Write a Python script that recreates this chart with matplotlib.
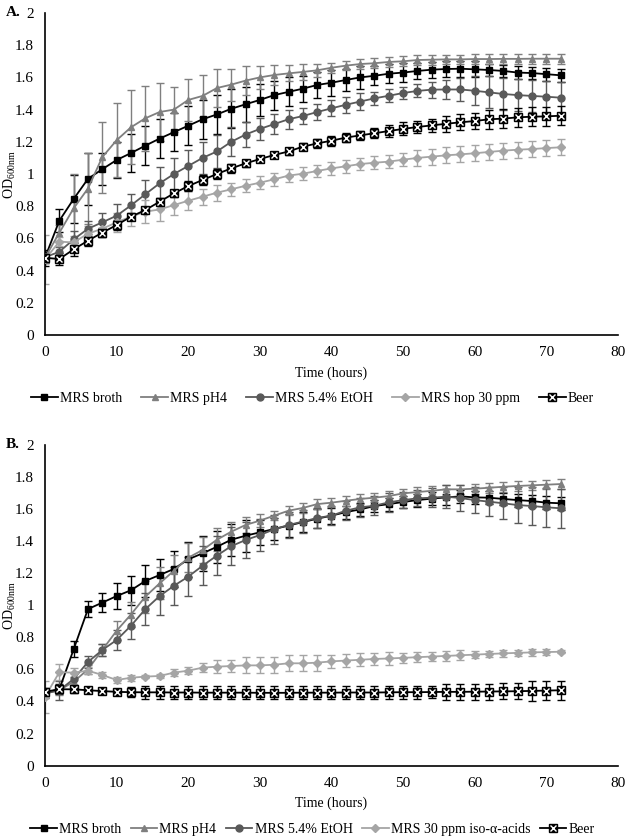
import numpy as np
import matplotlib
matplotlib.use("Agg")
import matplotlib.pyplot as plt

plt.rcParams['font.family'] = ['Liberation Serif', 'DejaVu Serif']
plt.rcParams['mathtext.default'] = 'regular'

time_h = list(range(0, 73, 2))

# ---- panel A ----
a_broth = [0.48, 0.71, 0.845, 0.97, 1.03, 1.087, 1.13, 1.176, 1.22, 1.26, 1.30, 1.34, 1.37,
           1.405, 1.433, 1.46, 1.49, 1.51, 1.53, 1.553, 1.567, 1.584, 1.60, 1.61, 1.623, 1.63,
           1.64, 1.648, 1.652, 1.654, 1.65, 1.646, 1.64, 1.63, 1.627, 1.62, 1.613]
a_broth_err = [0.03, 0.07, 0.15, 0.16, 0.10, 0.11, 0.12, 0.12, 0.12, 0.12, 0.12, 0.12, 0.12,
               0.12, 0.11, 0.10, 0.09, 0.09, 0.08, 0.08, 0.08, 0.07, 0.07, 0.06, 0.06, 0.06,
               0.05, 0.05, 0.05, 0.05, 0.05, 0.04, 0.04, 0.04, 0.04, 0.04, 0.04]
a_ph4 = [0.48, 0.635, 0.787, 0.91, 1.105, 1.21, 1.29, 1.346, 1.385, 1.40, 1.46, 1.485, 1.534,
         1.555, 1.58, 1.60, 1.615, 1.625, 1.634, 1.644, 1.66, 1.673, 1.683, 1.688, 1.696, 1.70,
         1.708, 1.71, 1.712, 1.712, 1.714, 1.714, 1.715, 1.715, 1.716, 1.716, 1.716]
a_ph4_err = [0.03, 0.05, 0.21, 0.22, 0.22, 0.23, 0.23, 0.20, 0.18, 0.14, 0.13, 0.13, 0.12,
             0.10, 0.09, 0.07, 0.06, 0.05, 0.05, 0.04, 0.03, 0.03, 0.03, 0.03, 0.03, 0.03,
             0.03, 0.03, 0.03, 0.03, 0.03, 0.03, 0.03, 0.03, 0.03, 0.03, 0.03]
a_etoh = [0.483, 0.517, 0.594, 0.66, 0.70, 0.741, 0.805, 0.874, 0.942, 1.0, 1.05, 1.10, 1.14,
          1.20, 1.245, 1.28, 1.31, 1.34, 1.36, 1.385, 1.408, 1.43, 1.45, 1.47, 1.486, 1.503,
          1.516, 1.524, 1.525, 1.525, 1.517, 1.507, 1.497, 1.49, 1.485, 1.48, 1.474]
a_etoh_err = [0.03, 0.03, 0.05, 0.05, 0.06, 0.07, 0.07, 0.09, 0.10, 0.10, 0.10, 0.10, 0.10,
              0.09, 0.08, 0.07, 0.06, 0.06, 0.05, 0.05, 0.05, 0.05, 0.05, 0.04, 0.04, 0.04,
              0.04, 0.05, 0.06, 0.07, 0.09, 0.10, 0.10, 0.10, 0.10, 0.10, 0.10]
a_hop = [0.47, 0.58, 0.575, 0.63, 0.66, 0.70, 0.735, 0.766, 0.78, 0.807, 0.834, 0.859, 0.884,
         0.905, 0.927, 0.946, 0.967, 0.99, 1.002, 1.019, 1.035, 1.048, 1.062, 1.07, 1.077,
         1.089, 1.10, 1.108, 1.116, 1.122, 1.129, 1.137, 1.145, 1.151, 1.155, 1.161, 1.166]
a_hop_err = [0.15, 0.03, 0.04, 0.05, 0.05, 0.06, 0.06, 0.07, 0.07, 0.06, 0.06, 0.05, 0.05,
             0.04, 0.04, 0.04, 0.04, 0.04, 0.04, 0.04, 0.04, 0.04, 0.04, 0.04, 0.04, 0.04,
             0.05, 0.05, 0.05, 0.05, 0.05, 0.05, 0.05, 0.05, 0.05, 0.05, 0.05]
a_beer = [0.48, 0.472, 0.532, 0.586, 0.636, 0.683, 0.735, 0.776, 0.828, 0.88, 0.925, 0.963,
          1.0, 1.035, 1.066, 1.093, 1.118, 1.14, 1.17, 1.19, 1.207, 1.226, 1.24, 1.253, 1.267,
          1.28, 1.292, 1.302, 1.312, 1.321, 1.329, 1.34, 1.344, 1.352, 1.356, 1.358, 1.362]
a_beer_err = [0.05, 0.04, 0.04, 0.03, 0.03, 0.03, 0.02, 0.02, 0.02, 0.02, 0.03, 0.03, 0.03,
              0.03, 0.02, 0.02, 0.02, 0.02, 0.02, 0.03, 0.03, 0.03, 0.03, 0.03, 0.04, 0.04,
              0.04, 0.04, 0.05, 0.05, 0.05, 0.06, 0.06, 0.06, 0.06, 0.06, 0.06]
a_labels = ['MRS broth', 'MRS pH4', 'MRS 5.4% EtOH', 'MRS hop 30 ppm', 'Beer']

# ---- panel B ----
b_broth = [0.455, 0.476, 0.725, 0.976, 1.016, 1.057, 1.093, 1.151, 1.188, 1.226, 1.286, 1.323,
           1.364, 1.408, 1.433, 1.454, 1.475, 1.496, 1.518, 1.539, 1.558, 1.58, 1.597, 1.618,
           1.63, 1.643, 1.655, 1.664, 1.672, 1.678, 1.672, 1.67, 1.662, 1.655, 1.649, 1.639, 1.635]
b_broth_err = [0.02, 0.03, 0.05, 0.05, 0.06, 0.08, 0.09, 0.10, 0.10, 0.11, 0.11, 0.11, 0.10,
               0.10, 0.10, 0.08, 0.07, 0.07, 0.06, 0.06, 0.05, 0.04, 0.04, 0.04, 0.04, 0.04,
               0.04, 0.04, 0.05, 0.04, 0.04, 0.04, 0.04, 0.04, 0.04, 0.04, 0.04]
b_ph4 = [0.45, 0.47, 0.523, 0.60, 0.721, 0.841, 0.942, 1.053, 1.136, 1.215, 1.296, 1.344,
         1.408, 1.458, 1.50, 1.527, 1.558, 1.589, 1.606, 1.63, 1.639, 1.651, 1.662, 1.67, 1.68,
         1.697, 1.705, 1.713, 1.722, 1.722, 1.726, 1.732, 1.738, 1.743, 1.747, 1.751, 1.755]
b_ph4_err = [0.03, 0.03, 0.03, 0.03, 0.04, 0.06, 0.08, 0.10, 0.10, 0.10, 0.09, 0.08, 0.07,
             0.06, 0.05, 0.04, 0.03, 0.03, 0.03, 0.03, 0.03, 0.03, 0.03, 0.03, 0.03, 0.03,
             0.03, 0.03, 0.03, 0.03, 0.03, 0.03, 0.03, 0.03, 0.03, 0.03, 0.03]
b_etoh = [0.45, 0.47, 0.54, 0.646, 0.721, 0.783, 0.872, 0.975, 1.057, 1.121, 1.178, 1.246,
          1.309, 1.368, 1.406, 1.437, 1.473, 1.50, 1.521, 1.544, 1.558, 1.589, 1.61, 1.62,
          1.641, 1.655, 1.666, 1.67, 1.676, 1.668, 1.655, 1.645, 1.635, 1.624, 1.618, 1.61, 1.604]
b_etoh_err = [0.03, 0.06, 0.04, 0.04, 0.04, 0.06, 0.08, 0.10, 0.12, 0.12, 0.12, 0.12, 0.12,
              0.12, 0.11, 0.10, 0.09, 0.08, 0.07, 0.06, 0.06, 0.06, 0.06, 0.06, 0.06, 0.05,
              0.05, 0.06, 0.07, 0.08, 0.08, 0.09, 0.10, 0.11, 0.12, 0.12, 0.12]
b_hop = [0.43, 0.582, 0.58, 0.592, 0.565, 0.534, 0.548, 0.555, 0.559, 0.58, 0.592, 0.611,
         0.617, 0.621, 0.625, 0.625, 0.629, 0.638, 0.638, 0.642, 0.65, 0.655, 0.66, 0.665,
         0.668, 0.672, 0.676, 0.68, 0.684, 0.688, 0.692, 0.696, 0.70, 0.703, 0.706, 0.708, 0.71]
b_hop_err = [0.10, 0.05, 0.03, 0.02, 0.02, 0.02, 0.02, 0.01, 0.01, 0.02, 0.02, 0.03, 0.04,
             0.04, 0.05, 0.05, 0.05, 0.05, 0.05, 0.05, 0.04, 0.04, 0.04, 0.04, 0.04, 0.03,
             0.03, 0.03, 0.03, 0.03, 0.02, 0.02, 0.02, 0.02, 0.02, 0.02, 0.01]
b_beer = [0.461, 0.476, 0.476, 0.47, 0.465, 0.46, 0.458, 0.457, 0.457, 0.456, 0.456, 0.455,
          0.455, 0.455, 0.455, 0.454, 0.454, 0.454, 0.455, 0.455, 0.455, 0.456, 0.456, 0.456,
          0.457, 0.458, 0.458, 0.459, 0.46, 0.46, 0.461, 0.462, 0.463, 0.464, 0.466, 0.468, 0.47]
b_beer_err = [0.02, 0.02, 0.02, 0.01, 0.01, 0.02, 0.03, 0.04, 0.04, 0.04, 0.04, 0.04, 0.04,
              0.04, 0.04, 0.04, 0.04, 0.04, 0.04, 0.04, 0.04, 0.04, 0.04, 0.04, 0.04, 0.04,
              0.04, 0.04, 0.05, 0.05, 0.05, 0.05, 0.05, 0.05, 0.06, 0.06, 0.06]
b_labels = ['MRS broth', 'MRS pH4', 'MRS 5.4% EtOH', 'MRS 30 ppm iso-\u03b1-acids', 'Beer']

colors = ['#000000', '#7f7f7f', '#595959', '#a5a5a5', '#000000']
markers = ['s', '^', 'o', 'D', 's']
msizes = [5, 5, 5, 3.8, 6]

fs = 10


def draw_panel(ax, series, errs, labels, tag, legend_y, colspace):
    handles = []
    for i, (vals, err) in enumerate(zip(series, errs)):
        c = colors[i]
        ax.errorbar(time_h, vals, yerr=err, fmt='none', ecolor=c, elinewidth=1.0,
                    capsize=3, capthick=1.0, zorder=2 + i * 0.1)
        line, = ax.plot(time_h, vals, color=c, marker=markers[i], markersize=msizes[i],
                        linewidth=1.3, markeredgecolor=c, markerfacecolor=c,
                        zorder=3 + i * 0.1)
        if labels[i] == 'Beer':
            xm, = ax.plot(time_h, vals, linestyle='none', marker='x', markersize=4,
                          markeredgecolor='white', markeredgewidth=1.0, zorder=3.6)
            handles.append((line, xm))
        else:
            handles.append(line)

    ax.set_xlim(0, 80)
    ax.set_ylim(0, 2)
    ax.set_xticks(np.arange(0, 81, 10))
    ax.set_yticks(np.arange(0, 2.01, 0.2))
    ax.set_yticklabels(['0', '0.2', '0.4', '0.6', '0.8', '1', '1.2', '1.4', '1.6', '1.8', '2'])
    ax.tick_params(length=0, labelsize=fs + 1, pad=8)
    for s in ['top', 'right']:
        ax.spines[s].set_visible(False)
    for s in ['left', 'bottom']:
        ax.spines[s].set_linewidth(1.2)
    ax.set_xlabel('Time (hours)', fontsize=fs, labelpad=5)
    ax.set_ylabel('OD$_{600nm}$', fontsize=fs)
    ax.yaxis.set_label_coords(-0.047, 0.5)
    ax.text(-0.068, 1.0, tag, transform=ax.transAxes, fontsize=11, fontweight='bold',
            ha='left', va='center')
    fig.legend(handles, labels, loc='center', bbox_to_anchor=(0.5, legend_y), ncol=5,
               frameon=False, fontsize=fs, handlelength=1.9, handletextpad=0.15,
               columnspacing=colspace)


fig = plt.figure(figsize=(6.25, 8.38), dpi=100)
ax_a = fig.add_axes([0.072, 0.6002, 0.9168, 0.3843])
ax_b = fig.add_axes([0.072, 0.0863, 0.9168, 0.3830])

draw_panel(ax_a, [a_broth, a_ph4, a_etoh, a_hop, a_beer],
           [a_broth_err, a_ph4_err, a_etoh_err, a_hop_err, a_beer_err],
           a_labels, 'A.', 1 - 398 / 838, 1.4)
draw_panel(ax_b, [b_broth, b_ph4, b_etoh, b_hop, b_beer],
           [b_broth_err, b_ph4_err, b_etoh_err, b_hop_err, b_beer_err],
           b_labels, 'B.', 1 - 829 / 838, 0.7)

fig.savefig('out.png', dpi=100)
